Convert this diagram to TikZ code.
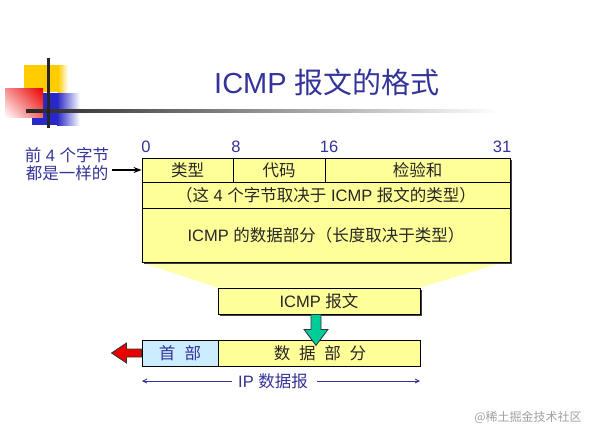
\documentclass[tikz,border=0pt]{standalone}
\usepackage{fontspec}
\setmainfont{Liberation Sans}
\newfontfamily\cjkfont{Noto Sans CJK SC}
\newcommand{\zh}[1]{{\cjkfont #1}}
\usetikzlibrary{arrows.meta, shadows, shadings, backgrounds, positioning, calc}
\definecolor{textBlue}{RGB}{51,51,153}
\definecolor{boxYellow}{RGB}{255,255,153}
\definecolor{fanYellow}{RGB}{255,255,170}
\definecolor{hdrBlue}{RGB}{204,236,255}
\definecolor{arrowGreen}{RGB}{0,204,153}
\definecolor{arrowRed}{RGB}{235,0,0}
\definecolor{markGray}{RGB}{160,160,160}
\definecolor{logoYellow}{RGB}{255,204,0}
\definecolor{logoBlue}{RGB}{40,40,200}

\begin{document}
\begin{tikzpicture}[x=1pt, y=-1pt,
    every node/.style={font=\fontsize{16.5}{17.5}\selectfont, inner sep=0pt},
    field/.style={draw=black, line width=0.9pt, fill=boxYellow, text=black!85},
    shadowed/.style={drop shadow={shadow xshift=1.6pt, shadow yshift=-1.6pt,
        fill=black!75, opacity=1}},
    bitnum/.style={text=textBlue},
    blocky/.style={draw=black!80, line width=0.8pt},
    dim/.style={-{Straight Barb[length=4pt,width=4pt]}, textBlue, line width=0.9pt}
]
    \useasboundingbox (0,0) rectangle (597,440);

    % logo in the corner
    \fill[logoYellow] (24,65) rectangle (58,92);
    \shade[left color=logoYellow, right color=white] (58,65) rectangle (68,92);
    \fill[logoBlue] (32,93) rectangle (57,125);
    \shade[left color=logoBlue, right color=white] (57,93) rectangle (80,125);
    \shade[upper right=arrowRed, upper left=arrowRed!45, lower right=arrowRed!60,
        lower left=white] (5,88) rectangle (43,117);
    \shade[left color=black!85, right color=white] (26,109.5) rectangle (500,112.5);
    \fill[black!85] (46.5,58) rectangle (49.5,128);

    % title
    \node[text=textBlue, font=\fontsize{29}{32}\selectfont] (title) at (327,82)
        {ICMP \zh{报文的格式}};

    % ICMP header layout
    \node[field, shadowed, minimum width=368pt, minimum height=104pt] (frame) at (326,210) {};
    \node[field, minimum width=91pt, minimum height=24pt] (typ) at (187.5,170) {\zh{类型}};
    \node[field, minimum width=92pt, minimum height=24pt] (code) at (279,170) {\zh{代码}};
    \node[field, minimum width=185pt, minimum height=24pt] (csum) at (417.5,170) {\zh{检验和}};
    \node[field, minimum width=368pt, minimum height=26pt] (rest) at (326,195)
        {\zh{（这} 4 \zh{个字节取决于} ICMP \zh{报文的类型）}};
    \node[field, minimum width=368pt, minimum height=54pt] (body) at (326,235)
        {ICMP \zh{的数据部分（长度取决于类型）}};

    \foreach \b/\x in {0/146, 8/236, 16/329, 31/502}{
        \node[bitnum] (b\b) at (\x,147) {\b};
    }

    \node[text=textBlue, align=center] (same) at (67,164)
        {\zh{前} 4 \zh{个字节}\\\zh{都是一样的}};
    \draw[-{Stealth[length=8pt,width=6pt]}, line width=1.2pt]
        ([xshift=3pt]same.east |- typ.west) -- (typ.west);

    % ICMP message inside the IP datagram
    \node[field, shadowed, minimum width=202pt, minimum height=26pt] (msg) at (319,301)
        {ICMP \zh{报文}};
    \node[field, fill=hdrBlue, text=textBlue, minimum width=76pt, minimum height=26pt]
        (hdr) at (180,353) {\zh{首\hspace{0.55em}部}\hspace{0.5em}};
    \node[field, minimum width=202pt, minimum height=26pt, right=0pt of hdr] (payload)
        {\zh{数\hspace{0.53em}据\hspace{0.53em}部\hspace{0.53em}分}\hspace{0.8em}};

    \begin{scope}[on background layer]
        \fill[fanYellow] (frame.south west) -- ([xshift=-8pt]frame.south east)
            -- (msg.north east) -- (msg.north west) -- cycle;
    \end{scope}

    \draw[blocky, fill=arrowGreen] ([xshift=-8pt]msg.south) -- ++(0,15) -- ++(-7,0)
        -- ++(12,16) -- ++(12,-16) -- ++(-7,0) -- ++(0,-15) -- cycle;
    \draw[blocky, fill=arrowRed] ([yshift=4pt]hdr.west) -- ++(-15,0) -- ++(0,-6)
        -- ++(-15,10) -- ++(15,10) -- ++(0,-6) -- ++(15,0) -- cycle;

    % IP datagram span
    \coordinate (ipL) at (142,381);
    \coordinate (ipR) at (420,381);
    \node[text=textBlue] (ip) at (273,381) {IP \zh{数据报}};
    \draw[dim] ([xshift=-6pt]ip.west) -- (ipL);
    \draw[dim] ([xshift=9pt]ip.east) -- (ipR);

    \node[text=markGray, font=\fontsize{12}{14}\selectfont] (mark) at (528,417)
        {\zh{@稀土掘金技术社区}};
\end{tikzpicture}
\end{document}
